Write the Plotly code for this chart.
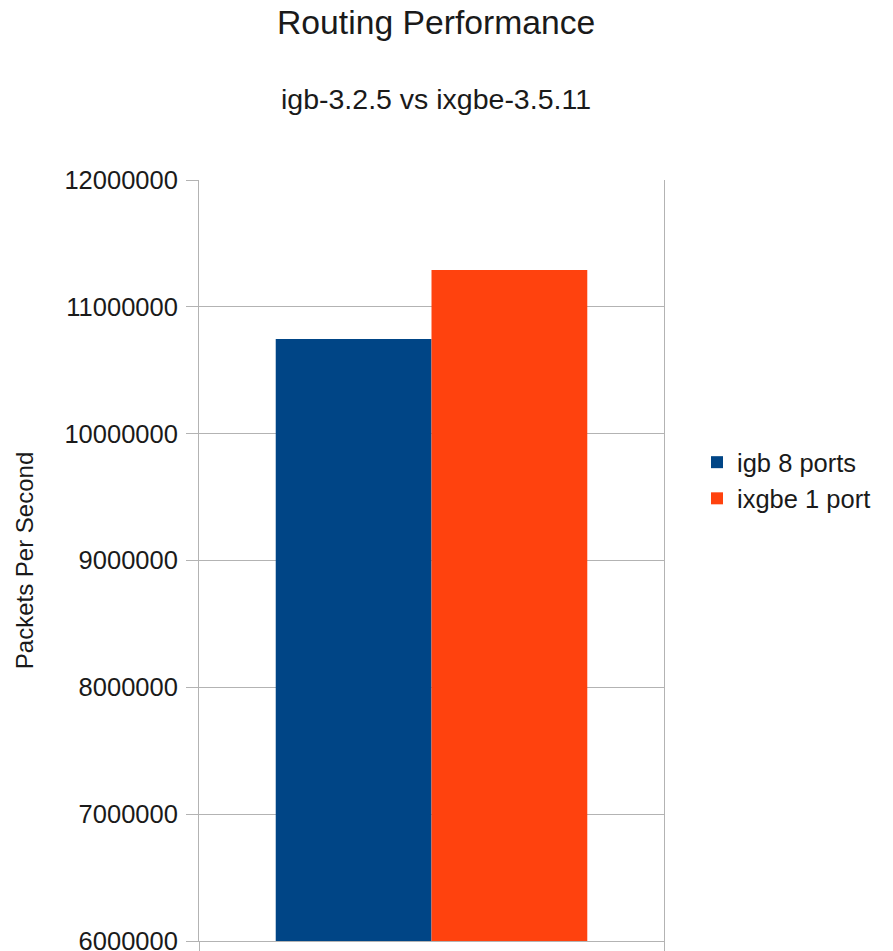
import plotly.graph_objects as go

# Routing throughput measured per driver
categories = [""]
series_names = ["igb 8 ports", "ixgbe 1 port"]
igb_values = [10746000]
ixgbe_values = [11290000]
y_ticks = [6000000, 7000000, 8000000, 9000000, 10000000, 11000000, 12000000]

FONT = "Liberation Sans, Arial, sans-serif"
TEXT = "#1a1a1a"
GRID = "#b3b3b3"

fig = go.Figure()
fig.add_trace(go.Bar(x=categories, y=igb_values, name=series_names[0],
                     marker=dict(color="#004586", line=dict(width=0))))
fig.add_trace(go.Bar(x=categories, y=ixgbe_values, name=series_names[1],
                     marker=dict(color="#ff420e", line=dict(width=0))))

fig.update_layout(
    width=893, height=951,
    margin=dict(l=199, r=229, t=180, b=10, autoexpand=False),
    paper_bgcolor="white", plot_bgcolor="white",
    font=dict(family=FONT, color=TEXT, size=25),
    barmode="group", bargap=0.33, bargroupgap=0,
    showlegend=True,
    legend=dict(x=1.071, y=0.605, xanchor="left", yanchor="middle",
                font=dict(size=25.5, color=TEXT), itemwidth=30,
                tracegroupgap=0, bgcolor="rgba(0,0,0,0)"),
    annotations=[
        dict(text="Routing Performance", xref="paper", yref="paper",
             x=0.51, y=1.2076, xanchor="center", yanchor="middle",
             showarrow=False, font=dict(size=33.7, color=TEXT)),
        dict(text="igb-3.2.5 vs ixgbe-3.5.11", xref="paper", yref="paper",
             x=0.51, y=1.106, xanchor="center", yanchor="middle",
             showarrow=False, font=dict(size=28.5, color=TEXT)),
    ],
)

fig.update_xaxes(showline=True, linecolor=GRID, linewidth=1,
                 ticks="outside", tickson="boundaries", ticklen=12,
                 tickcolor=GRID, showgrid=False, showticklabels=False,
                 mirror=False, zeroline=False, automargin=False)
fig.update_yaxes(range=[6000000, 12000000], tickvals=y_ticks,
                 ticktext=[str(v) for v in y_ticks],
                 showline=True, linecolor=GRID, linewidth=1, mirror=True,
                 ticks="outside", ticklen=12, tickcolor=GRID,
                 ticklabelstandoff=3, ticklabeloverflow="allow",
                 showgrid=True, gridcolor=GRID, gridwidth=1,
                 zeroline=False, automargin=False,
                 tickfont=dict(size=25.5, color=TEXT),
                 title=dict(text="Packets Per Second", standoff=24,
                            font=dict(size=24, color=TEXT)))

fig.write_html("out.html")
